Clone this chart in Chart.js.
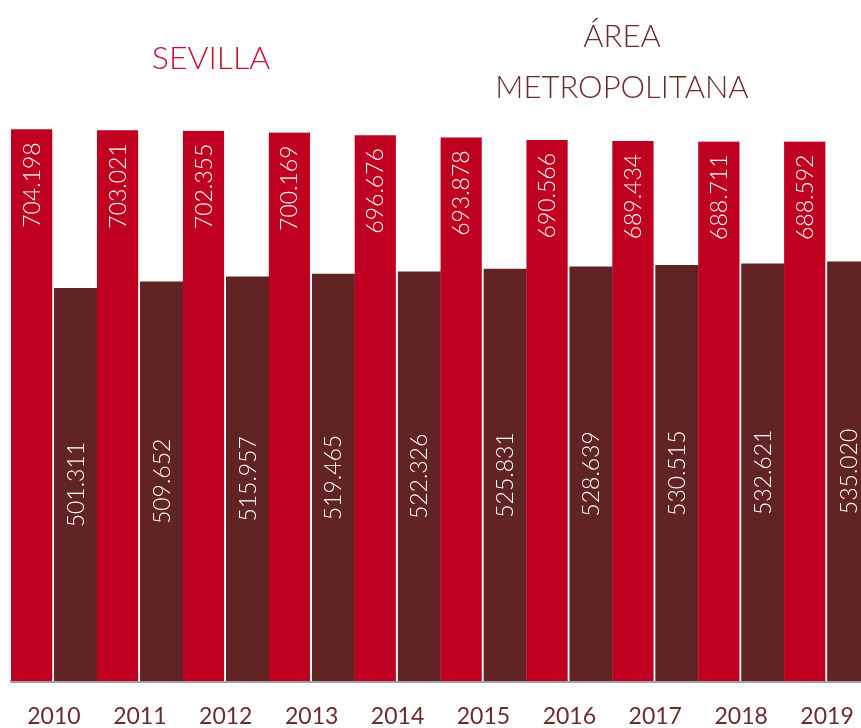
<!DOCTYPE html>
<html>
<head>
<meta charset="utf-8">
<script src="https://cdn.jsdelivr.net/npm/chart.js@4/dist/chart.umd.min.js"></script>
<style>
  html, body { margin: 0; padding: 0; background: #fff; overflow: hidden; width: 861px; height: 728px; }
  #wrap { position: relative; width: 880px; height: 728px; }
  canvas { position: absolute; left: 0; top: 0; }
  .ttl { position: absolute; font-family: Lato, "Open Sans", sans-serif; font-weight: 300; line-height: 1; white-space: nowrap; transform: translateX(-50%); text-align: center; }
  #t1 { color: #c8102e; font-size: 32px; left: 211px; top: 41px; }
  #t2 { color: #6b2b2b; font-size: 31px; left: 622px; top: 10px; line-height: 51px; }
</style>
</head>
<body>
<div id="wrap">
  <canvas id="c" width="880" height="728"></canvas>
  <div class="ttl" id="t1">SEVILLA</div>
  <div class="ttl" id="t2">ÁREA<br>METROPOLITANA</div>
</div>
<script>
const years = ['2010','2011','2012','2013','2014','2015','2016','2017','2018','2019'];
const sevilla = [704198, 703021, 702355, 700169, 696676, 693878, 690566, 689434, 688711, 688592];
const areaMetropolitana = [501311, 509652, 515957, 519465, 522326, 525831, 528639, 530515, 532621, 535020];

const RED = '#c00020';
const BROWN = '#612323';
const TEXT_BROWN = '#6b2b2b';
const FONT = 'Lato, "Open Sans", sans-serif';

function fmt(v) {
  const th = Math.floor(v / 1000);
  const rest = String(v % 1000).padStart(3, '0');
  return th + '.' + rest;
}

const valueLabels = {
  id: 'valueLabels',
  afterDatasetsDraw(chart) {
    const ctx = chart.ctx;
    const size = 23;
    ctx.save();
    ctx.font = '300 ' + size + 'px ' + FONT;
    ctx.fillStyle = '#ffffff';
    ctx.textBaseline = 'alphabetic';
    chart.data.datasets.forEach((ds, di) => {
      const meta = chart.getDatasetMeta(di);
      meta.data.forEach((bar, i) => {
        const txt = fmt(ds.data[i]);
        const capH = size * 0.72;
        let cx = bar.x;
        if (di === 0) cx -= 1;
        ctx.save();
        if (di === 0) {
          ctx.translate(cx + capH / 2, bar.y + 13);
          ctx.rotate(-Math.PI / 2);
          ctx.textAlign = 'right';
        } else {
          ctx.translate(cx + capH / 2, (bar.y + bar.base) / 2);
          ctx.rotate(-Math.PI / 2);
          ctx.textAlign = 'center';
        }
        ctx.fillText(txt, 0, 0);
        ctx.restore();
      });
    });
    ctx.restore();
  }
};

new Chart(document.getElementById('c'), {
  type: 'bar',
  data: {
    labels: years,
    datasets: [
      {
        label: 'SEVILLA',
        data: sevilla,
        backgroundColor: RED,
        borderColor: '#ffffff',
        borderWidth: { top: 0, right: 2, bottom: 0, left: 0 },
        borderSkipped: false,
        barPercentage: 1,
        categoryPercentage: 1
      },
      {
        label: 'ÁREA METROPOLITANA',
        data: areaMetropolitana,
        backgroundColor: BROWN,
        borderWidth: 0,
        barPercentage: 1,
        categoryPercentage: 1
      }
    ]
  },
  options: {
    responsive: false,
    animation: false,
    layout: { padding: { left: 11, right: 10, top: 0, bottom: 0 } },
    plugins: {
      legend: { display: false },
      title: { display: false },
      tooltip: { enabled: false }
    },
    scales: {
      y: {
        display: false,
        min: 0,
        max: 869300
      },
      x: {
        grid: { display: false, drawTicks: false, tickLength: 0 },
        border: { display: true, color: '#a0a0a0', width: 3 },
        ticks: {
          color: TEXT_BROWN,
          font: { family: FONT, size: 23, weight: '400' },
          padding: 22,
          maxRotation: 0,
          autoSkip: false
        },
        afterFit(scale) { scale.height = 47; }
      }
    }
  },
  plugins: [valueLabels]
});
</script>
</body>
</html>
